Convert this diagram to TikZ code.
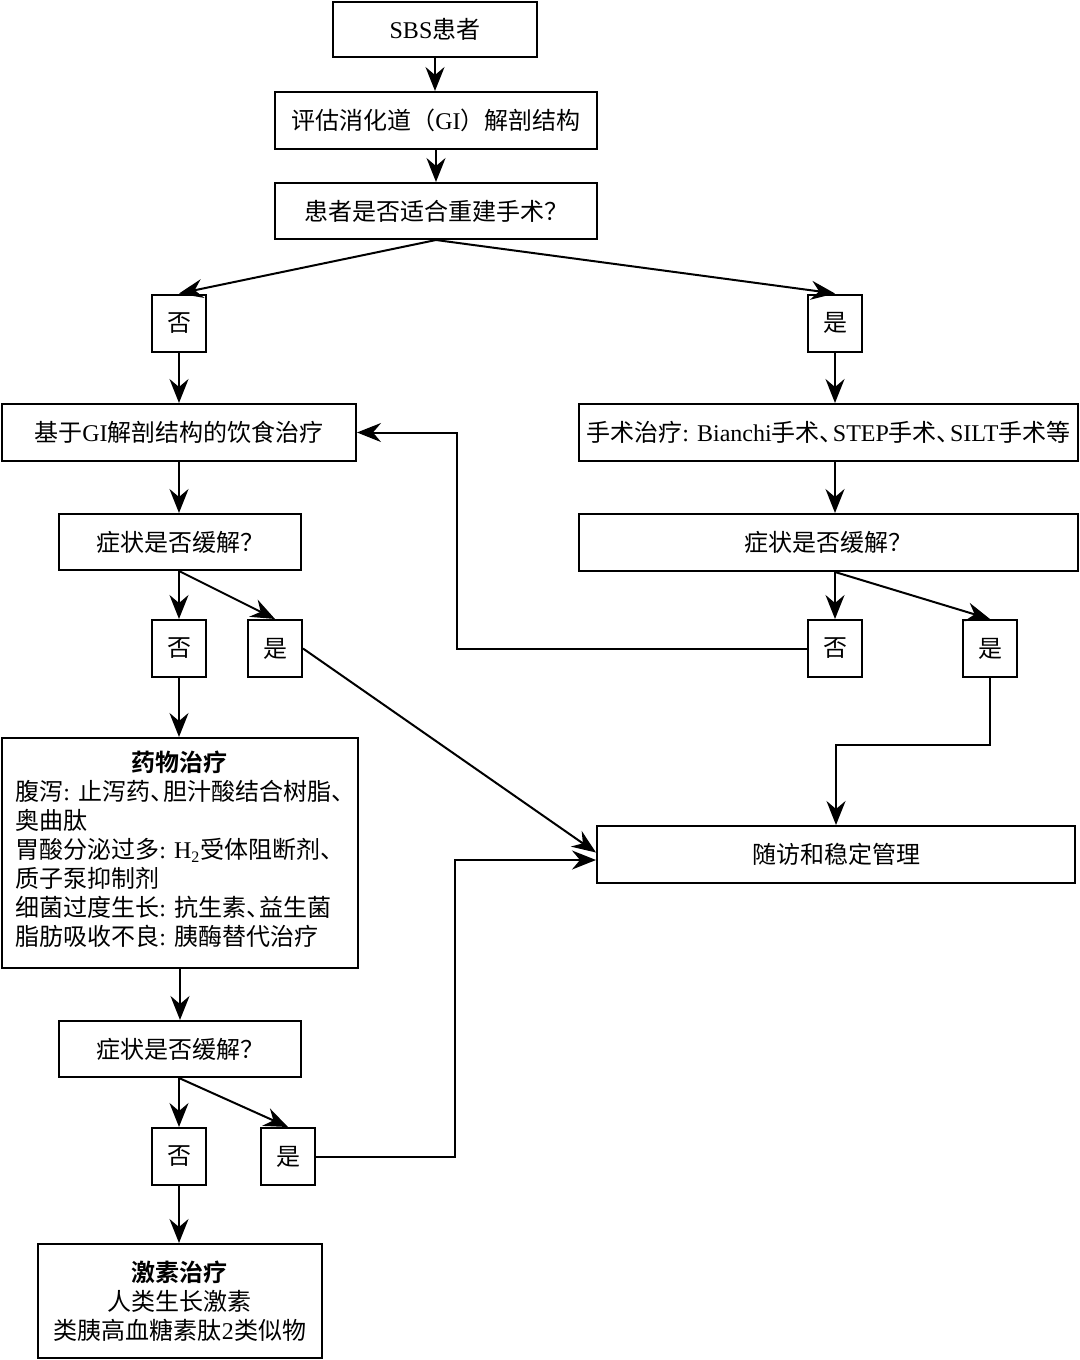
\documentclass[tikz,border=0pt]{standalone}
\usepackage{fontspec}
\setmainfont{Noto Sans CJK SC}[BoldFont=* Bold]
\newfontfamily\enf{Liberation Serif}
\newcommand{\en}[1]{{\enf #1}}
\newcommand{\dun}{\makebox[0.55em][l]{、}}
\usetikzlibrary{arrows.meta}

\begin{document}
\begin{tikzpicture}[x=0.5pt,y=0.5pt,
  box/.style={draw,line width=1pt,inner sep=0pt,align=center,font=\fontsize{12}{14.5}\selectfont},
  yn/.style={box,minimum width=27pt,minimum height=28.5pt},
  arr/.style={line width=1pt,-{Stealth[length=12pt,width=9.5pt,inset=4pt]}}]
\useasboundingbox (0,0) rectangle (1080,-1360);

\node [box,minimum width=102pt,minimum height=27.5pt] (sbs) at (435,-29.5) {\en{SBS}患者};
\node [box,minimum width=161pt,minimum height=28.5pt] (eval) at (436,-120.5) {评估消化道（\en{GI}）解剖结构};
\node [box,minimum width=161pt,minimum height=28pt] (fit) at (436,-211) {患者是否适合重建手术？};
\node [yn] (no1) at (179,-323) {否};
\node [yn] (yes1) at (835,-323) {是};
\node [box,minimum width=177pt,minimum height=28.5pt] (diet) at (179,-432.5) {基于\en{GI}解剖结构的饮食治疗};
\node [box,minimum width=249.5pt,minimum height=28.5pt] (op) at (828.5,-432.5) {手术治疗\en{: Bianchi}手术\dun\en{STEP}手术\dun\en{SILT}手术等};
\node [box,minimum width=121pt,minimum height=28pt] (q1) at (180,-542) {症状是否缓解？};
\node [box,minimum width=249.5pt,minimum height=28.5pt] (q2) at (828.5,-542.5) {症状是否缓解？};
\node [yn] (no2) at (179,-648.5) {否};
\node [yn] (yes2) at (275,-648.5) {是};
\node [yn] (no3) at (835,-648.5) {否};
\node [yn] (yes3) at (990,-648.5) {是};
\node [box,minimum width=178pt,minimum height=115pt] (drug) at (180,-853) {%
  \begin{tabular}{@{}l@{}}
  \multicolumn{1}{@{}c@{}}{\bfseries 药物治疗}\\
  腹泻\en{: }止泻药\dun 胆汁酸结合树脂\dun\\
  奥曲肽\\
  胃酸分泌过多\en{: H\textsubscript{2}}受体阻断剂\dun\\
  质子泵抑制剂\\
  细菌过度生长\en{: }抗生素\dun 益生菌\\
  脂肪吸收不良\en{: }胰酶替代治疗
  \end{tabular}};
\node [box,minimum width=239pt,minimum height=28.5pt] (fu) at (836,-854.5) {随访和稳定管理};
\node [box,minimum width=121pt,minimum height=28pt] (q3) at (180,-1049) {症状是否缓解？};
\node [yn] (no4) at (179,-1156.5) {否};
\node [yn] (yes4) at (288,-1156.5) {是};
\node [box,minimum width=142pt,minimum height=57pt] (horm) at (180,-1301) {{\bfseries 激素治疗}\\人类生长激素\\类胰高血糖素肽\en{2}类似物};

\coordinate (back) at (457,-432.5);
\coordinate (down) at (836,-745);
\coordinate (join) at (455,-860);

\draw[arr] (sbs) -- (sbs |- eval.north);
\draw[arr] (eval) -- (fit);
\draw[arr] (fit.south) -- (no1.north);
\draw[arr] (fit.south) -- (yes1.north);
\draw[arr] (no1) -- (no1 |- diet.north);
\draw[arr] (yes1) -- (yes1 |- op.north);
\draw[arr] (no1 |- diet.south) -- (no1 |- q1.north);
\draw[arr] (no3 |- op.south) -- (no3 |- q2.north);
\draw[arr] (no2 |- q1.south) -- (no2);
\draw[arr] (no2 |- q1.south) -- (yes2.north);
\draw[arr] (no3 |- q2.south) -- (no3);
\draw[arr] (no3 |- q2.south) -- (yes3.north);
\draw[arr] (no2) -- (no2 |- drug.north);
\draw[arr] (yes2.east) -- ([yshift=1pt]fu.west);
\draw[arr] (no3.west) -| (back) -- (diet.east);
\draw[arr] (yes3) |- (down) -- (fu);
\draw[arr] (drug) -- (q3);
\draw[arr] (no4 |- q3.south) -- (no4);
\draw[arr] (no4 |- q3.south) -- (yes4.north);
\draw[arr] (no4) -- (no4 |- horm.north);
\draw[arr] (yes4.east) -| (join) -- ([yshift=-2.75pt]fu.west);
\end{tikzpicture}
\end{document}
